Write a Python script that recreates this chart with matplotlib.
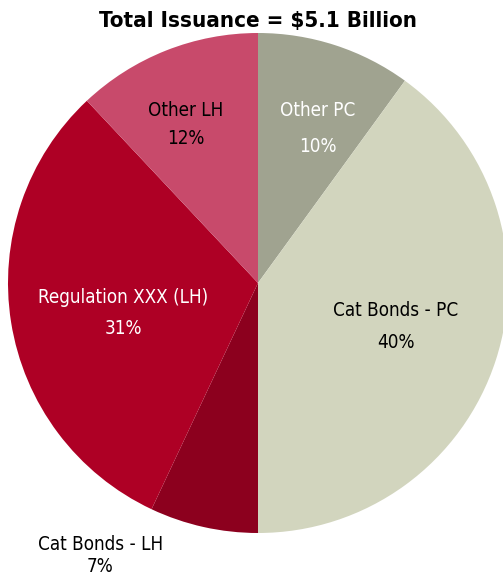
import matplotlib.pyplot as plt

# issuance shares, clockwise from 12 o'clock
labels = ["Other PC", "Cat Bonds - PC", "Cat Bonds - LH", "Regulation XXX (LH)", "Other LH"]
shares = [10, 40, 7, 31, 12]
colors = ["#A0A390", "#D2D5BE", "#8C001E", "#AE0025", "#C84A6B"]
text_colors = ["white", "black", "black", "white", "black"]
title = "Total Issuance = $5.1 Billion"

# label anchor positions in units of pie radius (name line, percent line below it)
label_xy = [(0.24, 0.69), (0.55, -0.11), (-0.63, -1.044), (-0.54, -0.056), (-0.29, 0.69)]
line_gap = [0.145, 0.13, 0.088, 0.124, 0.11]

plt.rcParams['font.family'] = ['DejaVu Sans']
plt.rcParams['font.stretch'] = 'condensed'

W, H = 503, 575
cx, cy, R = 258, 283, 250
fig = plt.figure(figsize=(W / 100, H / 100), dpi=100)
ax = fig.add_axes([0, 0, 1, 1])

ax.pie(shares, colors=colors, startangle=90, counterclock=False, radius=1,
       wedgeprops=dict(linewidth=0))
ax.set_xlim(-cx / R, (W - cx) / R)
ax.set_ylim(-(H - cy) / R, cy / R)
ax.set_aspect('equal')
ax.axis('off')

for i, name in enumerate(labels):
    x, y = label_xy[i]
    ax.text(x, y, name, ha='center', va='center', fontsize=13.5, color=text_colors[i])
    ax.text(x, y - line_gap[i], f"{shares[i]}%", ha='center', va='center',
            fontsize=13.5, color=text_colors[i])

fig.text(cx / W, 1 - 21 / H, title, ha='center', va='center', fontsize=16,
         fontweight='bold')

fig.savefig("out.png", dpi=100)
